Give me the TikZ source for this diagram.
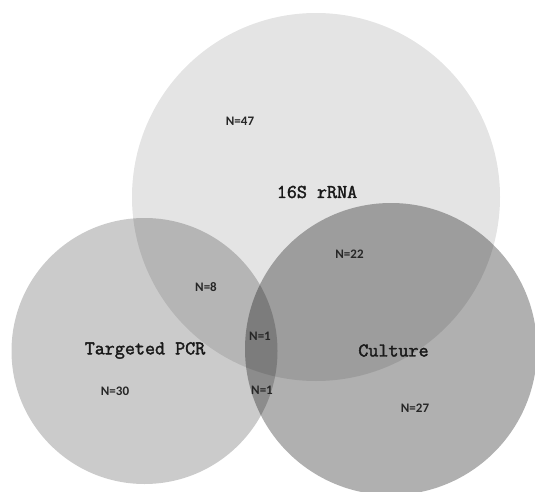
\documentclass[tikz,border=0pt]{standalone}
\usepackage{fontspec}
\newfontfamily\labfont{Carlito}
\newfontfamily\titlefont[FakeBold=2]{Latin Modern Mono}
\begin{document}
\begin{tikzpicture}[x=1pt,y=-1pt,
  settitle/.style={font=\titlefont\fontsize{19.5}{21}\selectfont, inner sep=0pt, text=black!90},
  count/.style={font=\labfont\bfseries\fontsize{13}{15}\selectfont, inner sep=0pt, text=black!85},
  setfill/.style={fill=black, fill opacity=#1}]
\useasboundingbox (0,0) rectangle (535,492);
\fill[white] (0,0) rectangle (535,492);
\begin{scope}
\clip (0,0) rectangle (535,492);
\fill[setfill=0.106] (316,197) circle (184);
\fill[setfill=0.204] (144.5,351) circle (133);
\fill[setfill=0.31] (391,349) circle (146);
\end{scope}
\node[settitle] (rrna) at (317,192) {16S rRNA};
\node[settitle] (pcr) at (145,350.5) {Targeted PCR};
\node[settitle] (cult) at (393.5,350.5) {Culture};
\node[count] (n47) at (240,121) {N=47};
\node[count] (n22) at (349.5,254) {N=22};
\node[count] (n8) at (206,287) {N=8};
\node[count] (n1a) at (260,336) {N=1};
\node[count] (n30) at (115,391) {N=30};
\node[count] (n1b) at (262,390) {N=1};
\node[count] (n27) at (415,408) {N=27};
\end{tikzpicture}
\end{document}
